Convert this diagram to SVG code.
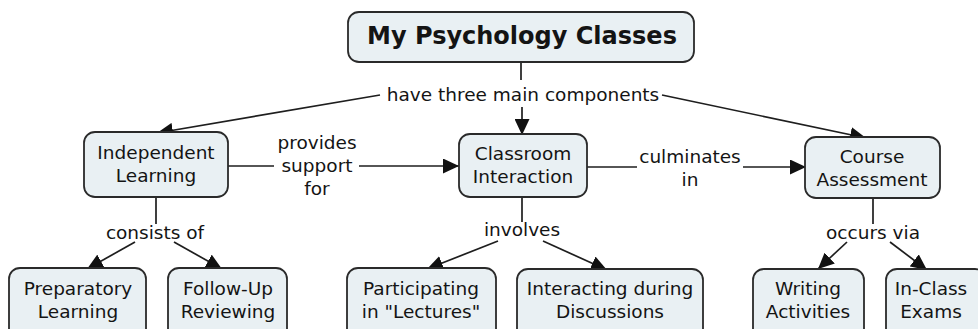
<svg xmlns="http://www.w3.org/2000/svg" width="978" height="329" viewBox="0 0 978 329">
<style>
.node rect{fill:#e9f0f3;stroke:#2a2a2a;stroke-width:1.8}
text{font-family:"DejaVu Sans",Verdana,sans-serif;font-size:18.5px;fill:#141414;text-anchor:middle}
.title{font-weight:bold;font-size:24px}
.link{fill:none;stroke:#1e1e1e;stroke-width:1.7}
.arrow{marker-end:url(#arr)}
</style>
<defs>
<marker id="arr" viewBox="0 0 16 15" refX="16" refY="7.5" markerWidth="16" markerHeight="15" markerUnits="userSpaceOnUse" orient="auto">
<path d="M0,0 L16,7.5 L0,15 z" fill="#111"/>
</marker>
</defs>
<rect width="978" height="329" fill="#ffffff"/>
<g id="connectors">
<path class="link" d="M521,62 V80"/>
<path class="link arrow" d="M380,95 L157,133"/>
<path class="link arrow" d="M662,95 L866,138"/>
<path class="link arrow" d="M522,107 V135"/>
<path class="link" d="M228,166 H274"/>
<path class="link arrow" d="M359,166 H459"/>
<path class="link" d="M587,167 H637"/>
<path class="link arrow" d="M743,167 H806"/>
<path class="link" d="M156,197 V224"/>
<path class="link arrow" d="M135,242 L87,269"/>
<path class="link arrow" d="M174,242 L222,269"/>
<path class="link" d="M522,197 V222"/>
<path class="link arrow" d="M498,241 L427,269"/>
<path class="link arrow" d="M543,241 L607,270"/>
<path class="link" d="M873,198 V224"/>
<path class="link arrow" d="M847,242 L818,269"/>
<path class="link arrow" d="M890,242 L927,270"/>
<text x="523" y="101">have three main components</text>
<text x="317" y="149">provides</text>
<text x="317" y="172">support</text>
<text x="317" y="195">for</text>
<text x="690" y="163">culminates</text>
<text x="690" y="186">in</text>
<text x="155" y="239">consists of</text>
<text x="522" y="236">involves</text>
<text x="873" y="239">occurs via</text>
</g>
<g id="n-title" class="node"><rect x="348" y="12" width="346" height="50" rx="11"/><text class="title" x="522" y="44">My Psychology Classes</text></g>
<g id="n-independent" class="node"><rect x="84" y="132" width="144" height="65" rx="11"/><text x="156" y="159">Independent</text><text x="156" y="182">Learning</text></g>
<g id="n-classroom" class="node"><rect x="459" y="134" width="128" height="63" rx="11"/><text x="523" y="160">Classroom</text><text x="523" y="183">Interaction</text></g>
<g id="n-course" class="node"><rect x="805" y="137" width="135" height="61" rx="11"/><text x="872" y="163">Course</text><text x="872" y="186">Assessment</text></g>
<g id="n-preparatory" class="node"><rect x="9" y="268" width="137" height="80" rx="11"/><text x="78" y="295">Preparatory</text><text x="78" y="318">Learning</text></g>
<g id="n-followup" class="node"><rect x="168" y="268" width="119" height="80" rx="11"/><text x="228" y="295">Follow-Up</text><text x="228" y="318">Reviewing</text></g>
<g id="n-participating" class="node"><rect x="347" y="268" width="149" height="80" rx="11"/><text x="421" y="295">Participating</text><text x="421" y="318">in "Lectures"</text></g>
<g id="n-interacting" class="node"><rect x="517" y="269" width="186" height="80" rx="11"/><text x="610" y="295">Interacting during</text><text x="610" y="318">Discussions</text></g>
<g id="n-writing" class="node"><rect x="753" y="269" width="111" height="80" rx="11"/><text x="808" y="295">Writing</text><text x="808" y="318">Activities</text></g>
<g id="n-inclass" class="node"><rect x="886" y="269" width="100" height="80" rx="11"/><text x="931" y="295">In-Class</text><text x="931" y="318">Exams</text></g>
</svg>
